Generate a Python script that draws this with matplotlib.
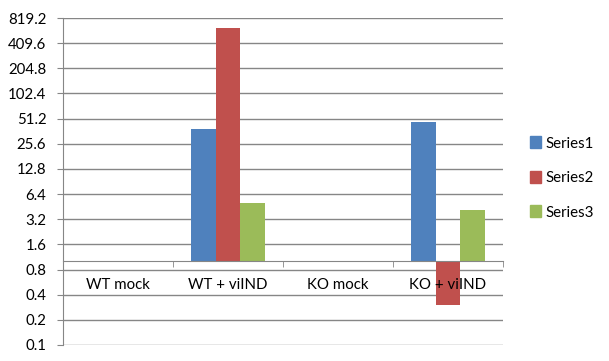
import matplotlib.pyplot as plt
import matplotlib.patches as mpatches
import numpy as np

plt.rcParams['font.family'] = ['Lato', 'DejaVu Sans']

categories = ['WT mock', 'WT + viIND', 'KO mock', 'KO + viIND']
series1 = [np.nan, 38.7, np.nan, 46.9]
series2 = [np.nan, 625.0, np.nan, 0.304]
series3 = [np.nan, 5.02, np.nan, 4.14]
series_names = ['Series1', 'Series2', 'Series3']
colors = ['#4F81BD', '#C0504D', '#9BBB59']
y_ticks = [0.1, 0.2, 0.4, 0.8, 1.6, 3.2, 6.4, 12.8, 25.6, 51.2, 102.4, 204.8, 409.6, 819.2]
y_labels = ['0.1', '0.2', '0.4', '0.8', '1.6', '3.2', '6.4', '12.8', '25.6',
            '51.2', '102.4', '204.8', '409.6', '819.2']

grid_color = '#868686'
base = 1.0
fs = 10.8

fig = plt.figure(figsize=(6.09, 3.61), dpi=100)
ax = fig.add_axes([63 / 609, 16 / 361, 440 / 609, 327 / 361])
ax.set_yscale('log', base=2)
ax.set_ylim(0.1, 819.2)
ax.set_xlim(-0.5, len(categories) - 0.5)

ind = np.arange(len(categories))
width = 1 / 4.5
for i, vals in enumerate([series1, series2, series3]):
    v = np.array(vals)
    ax.bar(ind + (i - 1) * width, v - base, width, bottom=base,
           color=colors[i], zorder=1)

for t in y_ticks:
    ax.axhline(t, color=grid_color, lw=1, zorder=0.5)

ax.set_yticks(y_ticks)
ax.set_yticklabels(y_labels)
ax.yaxis.set_minor_locator(plt.NullLocator())
ax.tick_params(axis='y', which='major', length=4, color=grid_color,
               labelsize=fs, pad=8)

ax.spines['bottom'].set_position(('data', base))
ax.spines['bottom'].set_color(grid_color)
ax.spines['left'].set_color(grid_color)
ax.spines['top'].set_visible(False)
ax.spines['right'].set_visible(False)

ax.set_xticks(ind)
ax.set_xticklabels(categories)
ax.set_xticks(np.arange(len(categories) + 1) - 0.5, minor=True)
ax.tick_params(axis='x', which='major', length=0, labelsize=fs, pad=12)
ax.tick_params(axis='x', which='minor', length=4, color=grid_color)

handles = [mpatches.Patch(color=colors[i], label=series_names[i]) for i in range(3)]
fig.legend(handles=handles, loc='center left', bbox_to_anchor=(516 / 609, 1 - 178 / 361),
           frameon=False, fontsize=fs, handlelength=0.75, handleheight=0.85,
           handletextpad=0.3, labelspacing=1.35)

fig.savefig('out.png', dpi=100)
